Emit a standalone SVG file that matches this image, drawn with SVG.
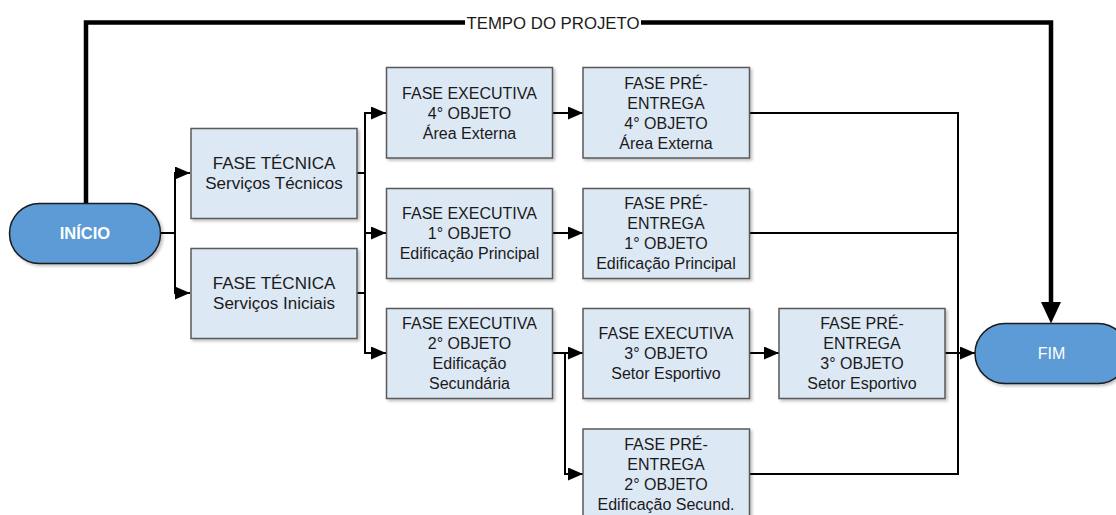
<svg xmlns="http://www.w3.org/2000/svg" width="1116" height="515" viewBox="0 0 1116 515">
<defs>
<filter id="sh" x="-10%" y="-10%" width="130%" height="130%">
<feGaussianBlur in="SourceAlpha" stdDeviation="1.5"/>
<feOffset dx="1.5" dy="2" result="b"/>
<feComponentTransfer><feFuncA type="linear" slope="0.25"/></feComponentTransfer>
<feMerge><feMergeNode/><feMergeNode in="SourceGraphic"/></feMerge>
</filter>
<marker id="ar" viewBox="0 0 15 13" refX="15" refY="6.5" markerWidth="15" markerHeight="13" markerUnits="userSpaceOnUse" orient="auto">
<path d="M0,0 L15,6.5 L0,13 Z" fill="#000"/>
</marker>
</defs>
<style>
.box{fill:#DDE8F5;stroke:#5a5a5a;stroke-width:1.5}
.pill{fill:#5B9BD5;stroke:#1a1a1a;stroke-width:1.5}
.t{font-family:"Liberation Sans",Arial,sans-serif;font-size:16px;fill:#1a1a1a;text-anchor:middle}
.t17{font-size:17px}
.pt{font-family:"Liberation Sans",Arial,sans-serif;fill:#fff;text-anchor:middle}
.c{fill:none;stroke:#000;stroke-width:2}
.thick{fill:none;stroke:#000;stroke-width:4.5}
</style>
<g id="connectors">
<path class="thick" d="M86,203 V22.5 H465"/>
<path class="thick" d="M641,22.5 H1051 V306"/>
<path d="M1041,302 L1061,302 L1051,323.5 Z" fill="#000"/>
<path class="c" d="M161,233 H175"/>
<path class="c" d="M175,233 V173 H190" marker-end="url(#ar)"/>
<path class="c" d="M175,233 V293 H190" marker-end="url(#ar)"/>
<path class="c" d="M357,173 H365"/>
<path class="c" d="M357,293 H365"/>
<path class="c" d="M365,233 V113 H386" marker-end="url(#ar)"/>
<path class="c" d="M365,233 H386" marker-end="url(#ar)"/>
<path class="c" d="M365,233 V353 H386" marker-end="url(#ar)"/>
<path class="c" d="M553,113 H583" marker-end="url(#ar)"/>
<path class="c" d="M553,233 H583" marker-end="url(#ar)"/>
<path class="c" d="M553,353 H583" marker-end="url(#ar)"/>
<path class="c" d="M565,353 V474 H583" marker-end="url(#ar)"/>
<path class="c" d="M750,353 H779" marker-end="url(#ar)"/>
<path class="c" d="M750,113 H958 V474 H750"/>
<path class="c" d="M750,233 H958"/>
<path class="c" d="M945,353 H975" marker-end="url(#ar)"/>
<text class="t" x="553" y="28.5" style="font-size:16.8px">TEMPO DO PROJETO</text>
</g>
<g id="inicio">
<rect class="pill" filter="url(#sh)" x="9.5" y="203.5" width="151" height="60" rx="30"/>
<text class="pt" x="85" y="239" style="font-size:16.5px;font-weight:bold">INÍCIO</text>
</g>
<g id="fim">
<rect class="pill" filter="url(#sh)" x="975" y="323.5" width="153" height="60" rx="30"/>
<text class="pt" x="1051.5" y="359" style="font-size:16px">FIM</text>
</g>
<g id="tecnica-servicos-tecnicos">
<rect class="box" filter="url(#sh)" x="191" y="128.5" width="166" height="90"/>
<text class="t t17" x="274" y="169">FASE TÉCNICA</text>
<text class="t t17" x="274" y="189">Serviços Técnicos</text>
</g>
<g id="tecnica-servicos-iniciais">
<rect class="box" filter="url(#sh)" x="191" y="248.5" width="166" height="90"/>
<text class="t t17" x="274" y="289">FASE TÉCNICA</text>
<text class="t t17" x="274" y="309">Serviços Iniciais</text>
</g>
<g id="executiva-4">
<rect class="box" filter="url(#sh)" x="386.5" y="67.5" width="166" height="90.5"/>
<text class="t" x="469.5" y="99">FASE EXECUTIVA</text>
<text class="t" x="469.5" y="119">4° OBJETO</text>
<text class="t" x="469.5" y="139">Área Externa</text>
</g>
<g id="executiva-1">
<rect class="box" filter="url(#sh)" x="386.5" y="188.5" width="166" height="90"/>
<text class="t" x="469.5" y="219">FASE EXECUTIVA</text>
<text class="t" x="469.5" y="239">1° OBJETO</text>
<text class="t" x="469.5" y="259">Edificação Principal</text>
</g>
<g id="executiva-2">
<rect class="box" filter="url(#sh)" x="386.5" y="308.5" width="166" height="90"/>
<text class="t" x="469.5" y="329">FASE EXECUTIVA</text>
<text class="t" x="469.5" y="349">2° OBJETO</text>
<text class="t" x="469.5" y="369">Edificação</text>
<text class="t" x="469.5" y="389">Secundária</text>
</g>
<g id="pre-entrega-4">
<rect class="box" filter="url(#sh)" x="583" y="67.5" width="166.5" height="90.5"/>
<text class="t" x="666" y="89">FASE PRÉ-</text>
<text class="t" x="666" y="109">ENTREGA</text>
<text class="t" x="666" y="129">4° OBJETO</text>
<text class="t" x="666" y="149">Área Externa</text>
</g>
<g id="pre-entrega-1">
<rect class="box" filter="url(#sh)" x="583" y="188.5" width="166.5" height="90"/>
<text class="t" x="666" y="209">FASE PRÉ-</text>
<text class="t" x="666" y="229">ENTREGA</text>
<text class="t" x="666" y="249">1° OBJETO</text>
<text class="t" x="666" y="269">Edificação Principal</text>
</g>
<g id="executiva-3">
<rect class="box" filter="url(#sh)" x="583" y="308.5" width="166.5" height="90"/>
<text class="t" x="666" y="339">FASE EXECUTIVA</text>
<text class="t" x="666" y="359">3° OBJETO</text>
<text class="t" x="666" y="379">Setor Esportivo</text>
</g>
<g id="pre-entrega-2">
<rect class="box" filter="url(#sh)" x="583" y="429" width="166.5" height="90"/>
<text class="t" x="666" y="450">FASE PRÉ-</text>
<text class="t" x="666" y="470">ENTREGA</text>
<text class="t" x="666" y="490">2° OBJETO</text>
<text class="t" x="666" y="510">Edificação Secund.</text>
</g>
<g id="pre-entrega-3">
<rect class="box" filter="url(#sh)" x="779" y="308.5" width="166" height="90"/>
<text class="t" x="862" y="329">FASE PRÉ-</text>
<text class="t" x="862" y="349">ENTREGA</text>
<text class="t" x="862" y="369">3° OBJETO</text>
<text class="t" x="862" y="389">Setor Esportivo</text>
</g>
</svg>
